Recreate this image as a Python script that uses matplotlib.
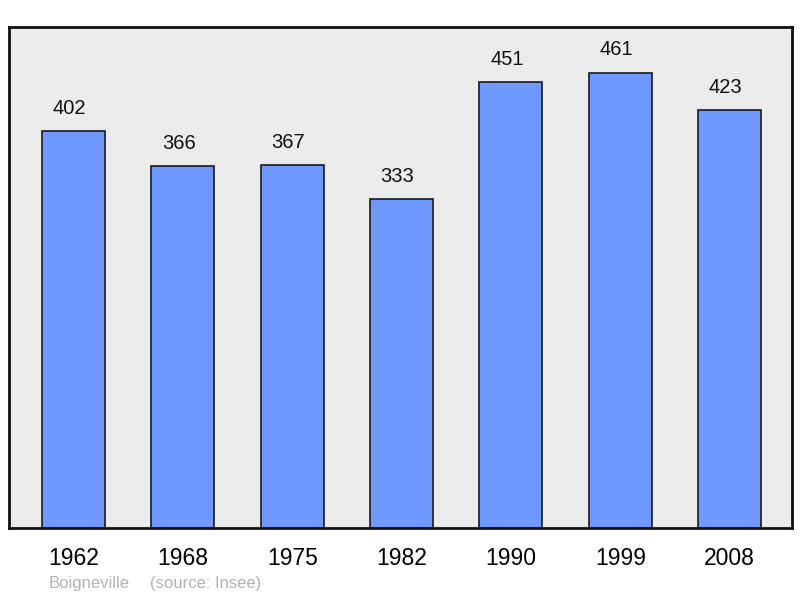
import matplotlib.pyplot as plt
import numpy as np

years = ['1962', '1968', '1975', '1982', '1990', '1999', '2008']
population = [402, 366, 367, 333, 451, 461, 423]

plt.rcParams['font.family'] = ['Liberation Sans', 'DejaVu Sans']

fig = plt.figure(figsize=(8, 5.98), dpi=100)
ax = fig.add_axes([9/800, 70/598, 783/800, 501/598])
ax.set_facecolor('#ececec')

x = np.arange(len(years))
ax.bar(x, population, 0.576, color='#7099ff', edgecolor='#1a1a1a', linewidth=1.2, zorder=2)
for xi, v in zip(x, population):
    ax.annotate(str(v), (xi, v), xytext=(-3, 9.5), textcoords='offset points',
                ha='center', va='bottom', fontsize=14.5, color='#111111')

ax.set_xlim(-0.59, 6.57)
ax.set_ylim(0, max(population) * 1.1)
ax.set_yticks([])
ax.set_xticks(x, years, fontsize=16.5)
ax.tick_params(axis='x', length=0, pad=14)
for s in ax.spines.values():
    s.set_linewidth(2)
    s.set_color('#111111')

fig.text(49/800, 1 - 588/598, 'Boigneville', fontsize=12,
         color='#b3b3b3', ha='left', va='baseline')
fig.text(150/800, 1 - 588/598, '(source: Insee)', fontsize=12,
         color='#b3b3b3', ha='left', va='baseline')

fig.savefig('out.png', dpi=100)
